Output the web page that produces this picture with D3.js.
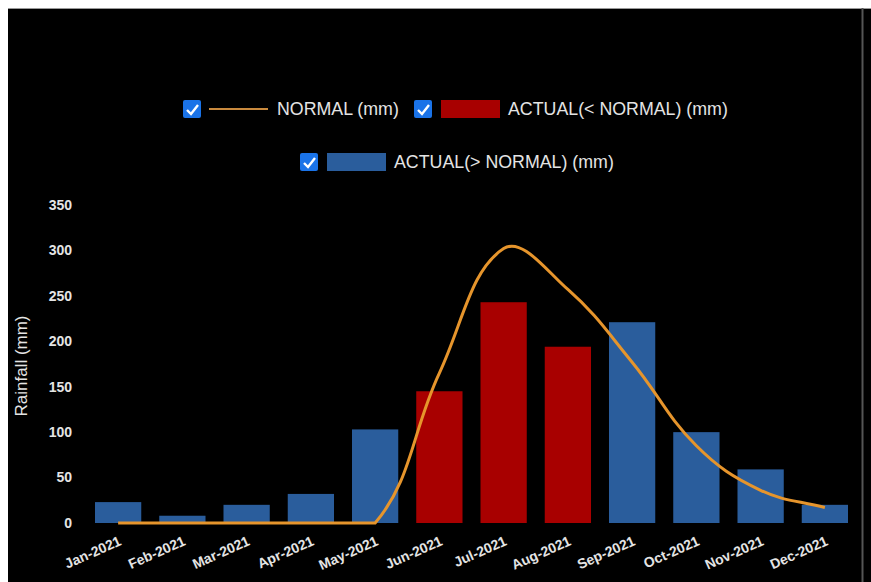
<!DOCTYPE html>
<html>
<head>
<meta charset="utf-8">
<script src="https://cdn.jsdelivr.net/npm/d3@7"></script>
<style>
  html, body { margin: 0; padding: 0; background: #fff; }
  svg { display: block; font-family: "Liberation Sans", Arial, sans-serif; }
</style>
</head>
<body>
<div id="chart"></div>
<script>
// dados
var months = ["Jan-2021","Feb-2021","Mar-2021","Apr-2021","May-2021","Jun-2021",
              "Jul-2021","Aug-2021","Sep-2021","Oct-2021","Nov-2021","Dec-2021"];
var actual = [23, 8, 20, 32, 103, 145, 243, 194, 221, 100, 59, 20];
var normal = [0, 0, 0, 0, 0, 165, 302, 257, 177, 85, 36, 17];
var yTicks = [0, 50, 100, 150, 200, 250, 300, 350];
var legendItems = [
  {label: "NORMAL (mm)", type: "line"},
  {label: "ACTUAL(< NORMAL) (mm)", type: "below"},
  {label: "ACTUAL(> NORMAL) (mm)", type: "above"}
];

var colors = { bg: "#000", blue: "#2a5d9c", red: "#a80000", line: "#e6952c", text: "#e4e4e4", check: "#1a73e8" };

var W = 871, H = 582;
var svg = d3.select("#chart").append("svg")
  .attr("width", W).attr("height", H);

// painel preto
svg.append("rect").attr("x", 8).attr("y", 8).attr("width", W - 8).attr("height", H - 8)
  .attr("fill", colors.bg);
svg.append("line").attr("x1", 8).attr("x2", W).attr("y1", 8.5).attr("y2", 8.5)
  .attr("stroke", "#999").attr("stroke-width", 1);
svg.append("line").attr("x1", 862.5).attr("x2", 862.5).attr("y1", 8).attr("y2", H)
  .attr("stroke", "#555").attr("stroke-width", 2);

// escalas
var x = d3.scaleBand().domain(months).range([86, 857])
  .paddingInner(0.28).paddingOuter(0.14);
var y = d3.scaleLinear().domain([0, 350]).range([523, 205]);

// eixo y
svg.append("g").selectAll("text").data(yTicks).enter().append("text")
  .attr("x", 72).attr("y", function(d) { return y(d); })
  .attr("dy", "0.35em").attr("text-anchor", "end")
  .attr("fill", colors.text).attr("font-size", 14).attr("font-weight", "bold")
  .text(function(d) { return d; });

svg.append("text")
  .attr("transform", "translate(27," + 366 + ") rotate(-90)")
  .attr("text-anchor", "middle")
  .attr("fill", colors.text).attr("font-size", 17)
  .text("Rainfall (mm)");

// eixo x
svg.append("g").selectAll("text").data(months).enter().append("text")
  .attr("transform", function(d) {
    return "translate(" + (x(d) + x.bandwidth() / 2 + 2) + ",540) rotate(-24)";
  })
  .attr("dy", "0.35em").attr("text-anchor", "end")
  .attr("fill", colors.text).attr("font-size", 14).attr("font-weight", "bold")
  .text(function(d) { return d; });

// barras
svg.append("g").selectAll("rect").data(actual).enter().append("rect")
  .attr("x", function(d, i) { return x(months[i]); })
  .attr("y", function(d) { return y(d); })
  .attr("width", x.bandwidth())
  .attr("height", function(d) { return y(0) - y(d); })
  .attr("fill", function(d, i) { return d > normal[i] ? colors.blue : colors.red; });

// linha normal (spline tensao 0.4, controles limitados a area do grafico)
var pts = normal.map(function(d, i) {
  return [x(months[i]) + x.bandwidth() / 2, y(d)];
});
var tension = 0.4;
var areaTop = y(350), areaBottom = y(0);
function clampY(v) { return Math.max(areaTop, Math.min(areaBottom, v)); }
var cps = pts.map(function(p, i) {
  var prev = pts[i - 1] || p, next = pts[i + 1] || p;
  var d01 = Math.hypot(p[0] - prev[0], p[1] - prev[1]);
  var d12 = Math.hypot(next[0] - p[0], next[1] - p[1]);
  var s01 = d01 / (d01 + d12) || 0, s12 = d12 / (d01 + d12) || 0;
  var fa = tension * s01, fb = tension * s12;
  return {
    prev: [p[0] - fa * (next[0] - prev[0]), clampY(p[1] - fa * (next[1] - prev[1]))],
    next: [p[0] + fb * (next[0] - prev[0]), clampY(p[1] + fb * (next[1] - prev[1]))]
  };
});
var path = d3.path();
path.moveTo(pts[0][0], pts[0][1]);
for (var i = 1; i < pts.length; i++) {
  path.bezierCurveTo(cps[i - 1].next[0], cps[i - 1].next[1],
    cps[i].prev[0], cps[i].prev[1], pts[i][0], pts[i][1]);
}
svg.append("path").attr("d", path.toString())
  .attr("fill", "none").attr("stroke", colors.line).attr("stroke-width", 3);

// legenda
function checkbox(g, cx, cy) {
  g.append("rect").attr("x", cx).attr("y", cy - 9).attr("width", 18).attr("height", 18)
    .attr("rx", 2).attr("fill", colors.check);
  g.append("path")
    .attr("d", "M" + (cx + 4) + "," + (cy + 1) + " l4,4 l7,-9")
    .attr("fill", "none").attr("stroke", "#fff").attr("stroke-width", 2.4);
}
var legendPos = [{x: 183, y: 109}, {x: 414, y: 109}, {x: 300, y: 162}];
var leg = svg.append("g");
legendItems.forEach(function(item, i) {
  var p = legendPos[i];
  var g = leg.append("g");
  checkbox(g, p.x, p.y);
  if (item.type === "line") {
    g.append("line").attr("x1", p.x + 26).attr("x2", p.x + 85)
      .attr("y1", p.y).attr("y2", p.y)
      .attr("stroke", "#c98a3e").attr("stroke-width", 2);
  } else {
    g.append("rect").attr("x", p.x + 27).attr("y", p.y - 9)
      .attr("width", 59).attr("height", 18)
      .attr("fill", item.type === "below" ? colors.red : colors.blue);
  }
  g.append("text").attr("x", p.x + 94).attr("y", p.y)
    .attr("dy", "0.35em").attr("fill", colors.text).attr("font-size", 17.8)
    .text(item.label);
});
</script>
</body>
</html>
